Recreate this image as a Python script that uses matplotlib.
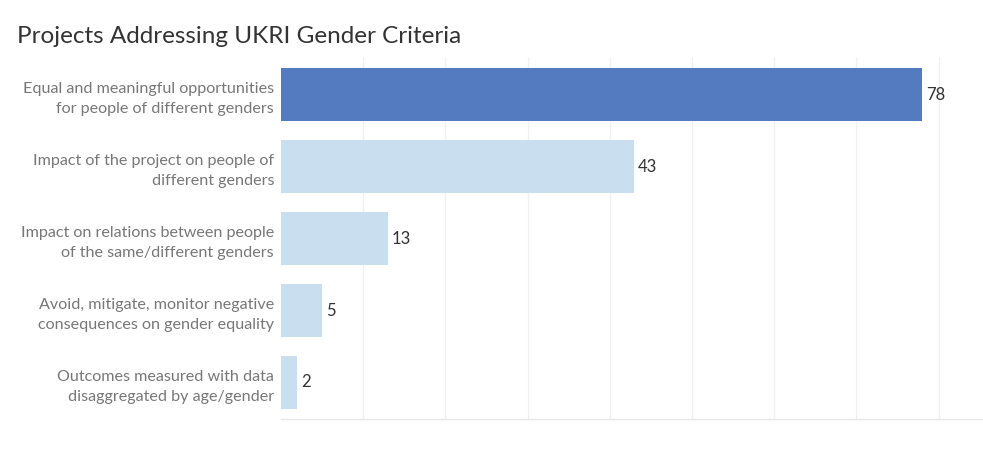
import matplotlib.pyplot as plt

# Data
categories = [
    "Equal and meaningful opportunities\nfor people of different genders",
    "Impact of the project on people of\ndifferent genders",
    "Impact on relations between people\nof the same/different genders",
    "Avoid, mitigate, monitor negative\nconsequences on gender equality",
    "Outcomes measured with data\ndisaggregated by age/gender",
]
counts = [78, 43, 13, 5, 2]
bar_colors = ["#547bbf", "#c9dff0", "#c9dff0", "#c9dff0", "#c9dff0"]

plt.rcParams['font.family'] = ['Lato', 'DejaVu Sans']

fig = plt.figure(figsize=(9.83, 4.59), dpi=100)
ax = fig.add_axes([281 / 983, 1 - 419 / 459, 1 - 281 / 983, (419 - 57) / 459])

pos = list(range(len(categories)))
ax.barh(pos, counts, height=0.74, color=bar_colors, zorder=2)

for p, v in zip(pos, counts):
    ax.text(v + 0.45, p, str(v), va='center', ha='left', fontsize=12, color='#333333')

ax.set_yticks(pos)
ax.set_yticklabels(categories, fontsize=11.6, color='#777777', linespacing=1.55)
ax.set_ylim(4.507, -0.521)
ax.set_xlim(0, 85.4)

ax.set_xticks(range(10, 85, 10))
ax.tick_params(axis='x', length=0, labelbottom=False)
ax.tick_params(axis='y', length=0, pad=5)
ax.grid(axis='x', color='#f0f0f0', linewidth=1, zorder=0)

for s in ['top', 'right', 'left']:
    ax.spines[s].set_visible(False)
ax.spines['bottom'].set_color('#e8e8e8')
ax.spines['bottom'].set_linewidth(1)

fig.text(17 / 983, 1 - 43 / 459, "Projects Addressing UKRI Gender Criteria",
         fontsize=17.5, color='#333333', ha='left', va='baseline')

fig.savefig('out.png', dpi=100)
